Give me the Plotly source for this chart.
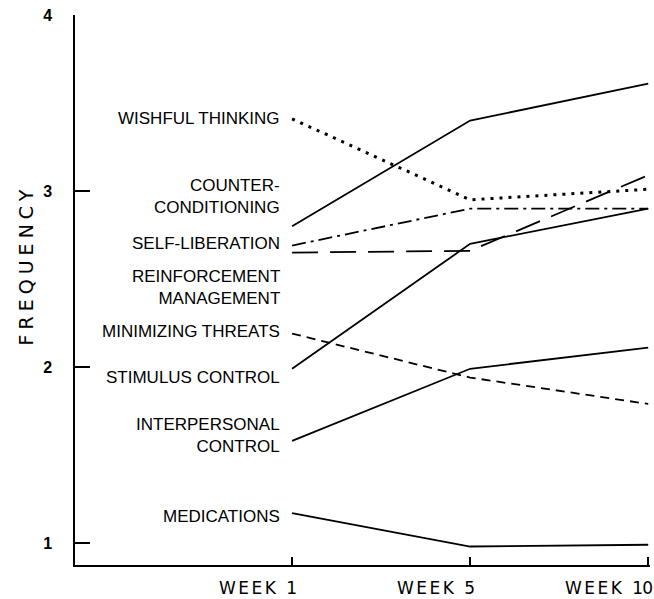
import plotly.graph_objects as go

# ---- data ----
weeks = ["WEEK 1", "WEEK 5", "WEEK 10"]
week_pos = [0, 1, 2]

series_names = [
    "WISHFUL THINKING",
    "COUNTER-<br>CONDITIONING",
    "SELF-LIBERATION",
    "REINFORCEMENT<br>MANAGEMENT",
    "MINIMIZING THREATS",
    "STIMULUS CONTROL",
    "INTERPERSONAL<br>CONTROL",
    "MEDICATIONS",
]
wishful_thinking = [3.41, 2.95, 3.01]
counter_conditioning = [2.80, 3.40, 3.61]
self_liberation = [2.69, 2.90, 2.90]
reinforcement_management = [2.65, 2.66, 3.09]
minimizing_threats = [2.19, 1.94, 1.79]
stimulus_control = [1.99, 2.70, 2.90]
interpersonal_control = [1.58, 1.99, 2.11]
medications = [1.17, 0.98, 0.99]

label_y = [3.41, 2.97, 2.70, 2.45, 2.20, 1.94, 1.61, 1.15]
y_ticks = [1, 2, 3, 4]

series_values = [
    wishful_thinking, counter_conditioning, self_liberation,
    reinforcement_management, minimizing_threats, stimulus_control,
    interpersonal_control, medications,
]
dashes = ["3px,6px", "solid", "14px,5px,3px,5px", "26px,12px",
          "9px,6px", "solid", "solid", "solid"]
widths = [3, 1.8, 1.8, 1.8, 1.8, 1.8, 1.8, 1.8]

fig = go.Figure()
for name, vals, d, w in zip(series_names, series_values, dashes, widths):
    fig.add_trace(go.Scatter(
        x=week_pos, y=vals, mode="lines", name=name.replace("<br>", " "),
        line=dict(color="black", width=w, dash=d), showlegend=False,
        hoverinfo="skip",
    ))

label_font = dict(family="Liberation Sans, Arial, sans-serif", size=17, color="black")
for name, ly in zip(series_names, label_y):
    fig.add_annotation(
        x=week_pos[0], y=ly, xref="x", yref="y", text=name,
        showarrow=False, xanchor="right", yanchor="middle", align="right",
        xshift=-10, font=label_font,
    )

# x tick labels (right-aligned under the ticks, as in the reference)
week_font = dict(family="DejaVu Sans, sans-serif", size=17, color="black")
for wk, xp in zip(weeks, week_pos):
    word, num = wk.split(" ")
    txt = ('<span style="letter-spacing:2.5px">%s </span>'
           '<span style="letter-spacing:-1px">%s</span>' % (word, num))
    fig.add_annotation(
        x=xp, y=0, xref="x", yref="paper", text=txt, showarrow=False,
        xanchor="right", yanchor="top", xshift=6, yshift=-11, font=week_font,
    )

fig.add_annotation(
    x=-0.085, y=0.545, xref="paper", yref="paper",
    text='<span style="letter-spacing:5px">FREQUENCY</span>',
    textangle=-90, showarrow=False, xanchor="center", yanchor="middle",
    font=dict(family="DejaVu Sans, sans-serif", size=19, color="black"),
)

fig.update_layout(
    template="none",
    width=654, height=599,
    margin=dict(l=75, r=4, t=15, b=34, autoexpand=False),
    paper_bgcolor="white", plot_bgcolor="white",
    xaxis=dict(
        range=[-1.219, 2.01], tickvals=week_pos, showticklabels=False,
        showline=True, linecolor="black", linewidth=1.5,
        ticks="inside", ticklen=8, tickwidth=1.5, tickcolor="black",
        showgrid=False, zeroline=False, automargin=False,
    ),
    yaxis=dict(
        range=[0.875, 4], tickvals=y_ticks,
        ticktext=["<b>%d</b>" % v for v in y_ticks],
        showline=True, linecolor="black", linewidth=1.5,
        ticks="inside", ticklen=15, tickwidth=1.5, tickcolor="black",
        showgrid=False, zeroline=False, automargin=False,
        tickfont=dict(family="Liberation Sans, Arial, sans-serif", size=16,
                      color="black"),
        ticklabelstandoff=18, ticklabeloverflow="allow",
    ),
)

fig.write_html(
    "out.html",
    config={"displayModeBar": False},
    post_script="document.body.style.margin='0';document.body.style.padding='0';",
)
